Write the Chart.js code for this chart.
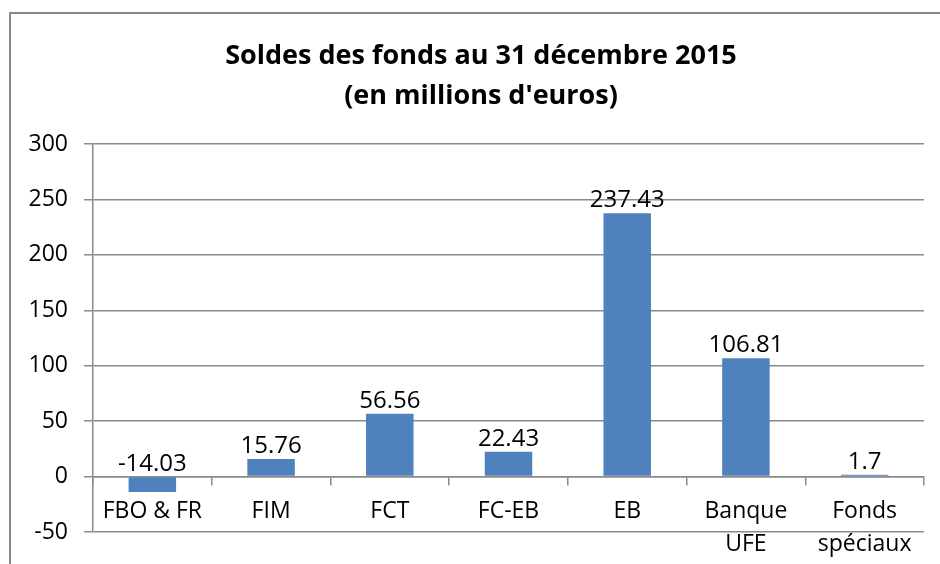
<!DOCTYPE html>
<html>
<head>
<meta charset="utf-8">
<script src="https://cdn.jsdelivr.net/npm/chart.js@4"></script>
<style>
    html, body { margin: 0; padding: 0; background: #fff; }
    #cadre {
        position: absolute; left: 9px; top: 12px; width: 960px; height: 600px;
        border-top: 2px solid #888; border-left: 2px solid #888;
    }
    #zone { position: absolute; left: 0; top: 0; width: 940px; height: 564px; }
</style>
</head>
<body>
<div id="cadre"></div>
<div id="zone"><canvas id="soldesChart"></canvas></div>
<script>
const fonds = ['FBO & FR', 'FIM', 'FCT', 'FC-EB', 'EB', ['Banque', 'UFE'], ['Fonds', 'spéciaux']];
const soldes = [-14.03, 15.76, 56.56, 22.43, 237.43, 106.81, 1.7];
const etiquettes = ['-14.03', '15.76', '56.56', '22.43', '237.43', '106.81', '1.7'];
const titre = ['Soldes des fonds au 31 décembre 2015', "(en millions d'euros)"];
const yMin = -50, yMax = 300, yPas = 50;

const bleu = '#4F81BD';
const gris = '#8a8a8a';

// valeurs au-dessus des barres
const etiquettesPlugin = {
    id: 'etiquettes',
    afterLayout(chart) {
        // laisser la place aux graduations à gauche (le titre reste décalé)
        chart.scales.y.left = 10;
    },
    afterDatasetsDraw(chart) {
        const ctx = chart.ctx;
        const meta = chart.getDatasetMeta(0);
        ctx.save();
        ctx.font = '24px "Open Sans"';
        ctx.fillStyle = '#000';
        ctx.textAlign = 'center';
        ctx.textBaseline = 'alphabetic';
        meta.data.forEach((bar, i) => {
            const haut = Math.min(bar.y, bar.base);
            ctx.fillText(etiquettes[i], bar.x, haut - 6);
        });
        ctx.restore();
    }
};

Chart.defaults.font.family = '"Open Sans", sans-serif';
Chart.defaults.color = '#000';

new Chart(document.getElementById('soldesChart').getContext('2d'), {
    type: 'bar',
    data: {
        labels: fonds,
        datasets: [{
            data: soldes,
            backgroundColor: bleu,
            borderWidth: 0,
            categoryPercentage: 1,
            barPercentage: 0.4
        }]
    },
    options: {
        responsive: true,
        maintainAspectRatio: false,
        animation: false,
        layout: { padding: { top: 0, left: 38, right: 16, bottom: 32 } },
        scales: {
            x: {
                position: { y: 0 },
                grid: {
                    drawOnChartArea: false,
                    drawTicks: true,
                    tickLength: 8,
                    color: gris,
                    lineWidth: 1.5
                },
                border: { display: true, color: gris, width: 1.5 },
                ticks: {
                    font: { size: 23, lineHeight: 1.45 },
                    padding: 10,
                    maxRotation: 0,
                    autoSkip: false
                }
            },
            y: {
                min: yMin,
                max: yMax,
                afterFit: (s) => { s.width = 55; },
                grid: {
                    color: gris,
                    lineWidth: 1.5,
                    drawTicks: true,
                    tickLength: 9
                },
                border: { display: true, color: gris, width: 1.5 },
                ticks: {
                    stepSize: yPas,
                    font: { size: 23 },
                    padding: 16
                }
            }
        },
        plugins: {
            legend: { display: false },
            tooltip: { enabled: false },
            title: {
                display: true,
                text: titre,
                color: '#000',
                font: { size: 27, weight: 'bold', lineHeight: 1.5 },
                padding: { top: 36, bottom: 27 }
            }
        }
    },
    plugins: [etiquettesPlugin]
});
</script>
</body>
</html>
